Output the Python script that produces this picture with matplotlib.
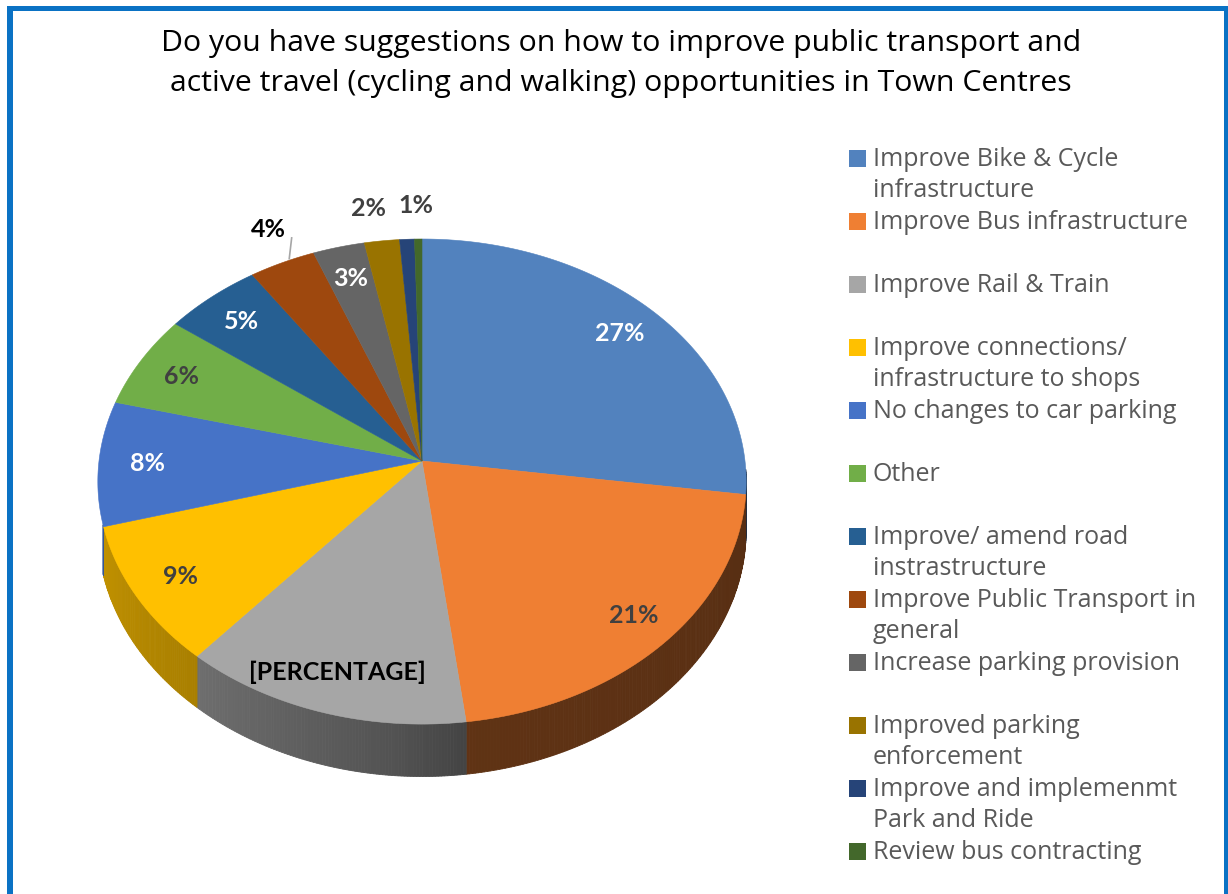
import numpy as np
import matplotlib
matplotlib.use("Agg")
import matplotlib.pyplot as plt
from matplotlib.patches import Polygon, Rectangle
from matplotlib.colors import to_rgb

# ---------------- data ----------------
title = ("Do you have suggestions on how to improve public transport and\n"
         "active travel (cycling and walking) opportunities in Town Centres")
categories = [
    "Improve Bike & Cycle\ninfrastructure",
    "Improve Bus infrastructure",
    "Improve Rail & Train",
    "Improve connections/\ninfrastructure to shops",
    "No changes to car parking",
    "Other",
    "Improve/ amend road\ninstrastructure",
    "Improve Public Transport in\ngeneral",
    "Increase parking provision",
    "Improved parking\nenforcement",
    "Improve and implemenmt\nPark and Ride",
    "Review bus contracting",
]
values = [27.2, 20.8, 13.3, 9.4, 8.3, 6.2, 5.3, 3.6, 2.8, 1.9, 0.8, 0.4]
colors = ["#5282BE", "#EF7F33", "#A6A6A6", "#FFC000", "#4673C7", "#71AE48",
          "#265F92", "#9E480E", "#656565", "#997300", "#264478", "#43682B"]
# which label text to show (Excel placeholder bug kept for Rail & Train)
label_override = {2: "[PERCENTAGE]", 11: ""}
label_colors = ["white", "#404040", "black", "#404040", "white", "#404040",
                "white", "black", "white", "#404040", "#404040", "#404040"]
outside = {7: 1.5, 9: -1.2, 10: 1.8}

# ---------------- figure ----------------
W, H = 1228, 895
fig = plt.figure(figsize=(W / 100, H / 100), dpi=100)
ax = fig.add_axes([0, 0, 1, 1])
ax.set_xlim(0, W)
ax.set_ylim(H, 0)
ax.axis("off")

# frame
border = "#0A72C4"
ax.add_patch(Rectangle((7, 7), 6, H, color=border, lw=0))
ax.add_patch(Rectangle((7, 7), W, 5, color=border, lw=0))
ax.add_patch(Rectangle((1224, 7), 6, H, color=border, lw=0))

# title
ax.text(621, 63, title, ha="center", va="center", fontsize=21.8,
        family="Open Sans", color="black", linespacing=1.5)

# ---------------- 3D pie projection ----------------
cx, cy = 422, 462
R = 323.0
Rt = 240.8
p = 0.0847
depth = 48.0


def proj(theta_deg, r=1.0, dz=0.0):
    th = np.radians(theta_deg)
    X = r * np.sin(th)
    Z = r * np.cos(th)
    s = 1.0 / (1.0 + p * Z)
    return cx + R * X * s, cy - Rt * Z * s + dz * s


def side_factor(th):
    pts = [(90, 0.36), (172, 0.40), (185, 0.50), (220, 0.66), (270, 0.80)]
    xs, ys = zip(*pts)
    return np.interp(th, xs, ys)


fr = np.array(values) / np.sum(values)
bounds = np.concatenate([[0], np.cumsum(fr) * 360])

# sides (front half)
for i in range(len(values)):
    a0, a1 = max(bounds[i], 92), min(bounds[i + 1], 255)
    if a1 <= a0:
        continue
    base = np.array(to_rgb(colors[i]))
    n = max(2, int((a1 - a0) / 0.5))
    ths = np.linspace(a0, a1, n + 1)
    for j in range(n):
        t0, t1 = ths[j], ths[j + 1]
        top0 = proj(t0)
        top1 = proj(t1)
        bot1 = proj(t1, dz=depth)
        bot0 = proj(t0, dz=depth)
        f = side_factor(0.5 * (t0 + t1))
        c = np.clip(base * f, 0, 1)
        ax.add_patch(Polygon([top0, top1, bot1, bot0], closed=True,
                             facecolor=c, edgecolor=c, lw=0.6))

# top faces
for i in range(len(values)):
    ths = np.linspace(bounds[i], bounds[i + 1], max(3, int((bounds[i + 1] - bounds[i]) / 0.5)))
    pts = [proj(0, r=0)] + [proj(t) for t in ths]
    ax.add_patch(Polygon(pts, closed=True, facecolor=colors[i],
                         edgecolor=colors[i], lw=0.4))

# labels
for i in range(len(values)):
    txt = label_override.get(i, f"{round(values[i])}%")
    if not txt:
        continue
    mid = 0.5 * (bounds[i] + bounds[i + 1])
    if i in outside:
        x, y = proj(mid + outside[i], r=1.17)
    else:
        x, y = proj(mid, r=0.85)
        if i == 1:
            x += 8
    ax.text(x, y, txt, ha="center", va="center", fontsize=18,
            fontweight="bold", family="Lato", color=label_colors[i])
    if i == 7:
        ex, ey = proj(mid, r=1.0)
        ax.plot([x + 23, ex + 7], [y + 9, ey - 4], color="#A6A6A6", lw=1.2)

# legend
lx, ly0, dy = 849, 159, 63
for i, cat in enumerate(categories):
    y = ly0 + i * dy
    ax.add_patch(Rectangle((lx, y - 8), 17, 17, color=colors[i], lw=0))
    ax.text(lx + 24, y - 12, cat, ha="left", va="top", fontsize=18,
            family="Open Sans", color="#595959", linespacing=1.33)

fig.savefig("out.png", dpi=100)
